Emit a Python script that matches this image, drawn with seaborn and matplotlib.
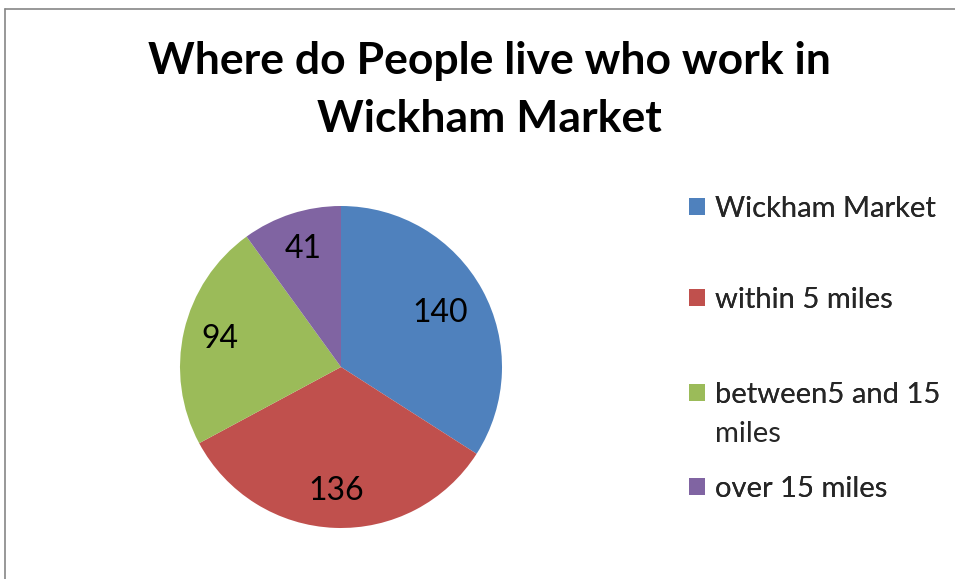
import matplotlib
matplotlib.use('Agg')
import matplotlib.pyplot as plt
import seaborn as sns
from matplotlib.lines import Line2D

## Data.
categories = ['Wickham Market', 'within 5 miles', 'between5 and 15', 'over 15 miles']
label_wrap = {2: 'miles'}  # second line of the third legend entry
counts = [140, 136, 94, 41]
colours = ['#4F81BD', '#C0504D', '#9BBB59', '#8064A2']

sns.set_style('white')
plt.rcParams['font.family'] = ['Lato', 'DejaVu Sans']

W, H = 955, 579
fig = plt.figure(figsize=(W / 100, H / 100), dpi=100)

# Pie axes: centre ~(341, 367) px, radius ~161 px
r = 161
ax = fig.add_axes([(341 - r) / W, (H - 367 - r) / H, 2 * r / W, 2 * r / H])
wedges, _, autotexts = ax.pie(counts, colors=colours, startangle=90, counterclock=False,
                              radius=1, autopct=lambda p: f'{round(p * sum(counts) / 100):d}',
                              pctdistance=0.77, labeldistance=None,
                              wedgeprops=dict(linewidth=0),
                              textprops=dict(fontsize=23, color='black'))
# Excel's best-fit put the first label a bit closer to the centre
x0, y0 = autotexts[0].get_position()
autotexts[0].set_position((x0 * 0.7 / 0.77, y0 * 0.7 / 0.77))
ax.set_xlim(-1, 1)
ax.set_ylim(-1, 1)
ax.set_aspect('equal')
ax.axis('off')

fig.suptitle('Where do People live who work in\nWickham Market', x=489 / W, y=1 - 41 / H,
             fontsize=32, fontweight='bold', va='top', linespacing=1.56, color='black')

# one legend entry per row, centred at ~207, 298, 393, 487 px
row_y = [207, 298, 393, 487]
for i, (w, lab, yy) in enumerate(zip(wedges, categories, row_y)):
    leg = fig.legend([w], [lab], loc='upper left', bbox_to_anchor=(689 / W, 1 - (yy - 11) / H),
                     frameon=False, fontsize=21, handlelength=0.55, handleheight=0.55,
                     handletextpad=0.35, borderpad=0, borderaxespad=0)
    fig.add_artist(leg)
    if i in label_wrap:
        fig.text(715 / W, 1 - (yy + 49) / H, label_wrap[i], fontsize=21, va='baseline', ha='left')

# chart area border (left and top visible)
fig.add_artist(Line2D([4.5 / W, 4.5 / W], [0, 1 - 8.5 / H], color='#868686', lw=1.2, transform=fig.transFigure))
fig.add_artist(Line2D([4.5 / W, 1], [1 - 8.5 / H, 1 - 8.5 / H], color='#868686', lw=1.2, transform=fig.transFigure))

fig.savefig('out.png', dpi=100)
